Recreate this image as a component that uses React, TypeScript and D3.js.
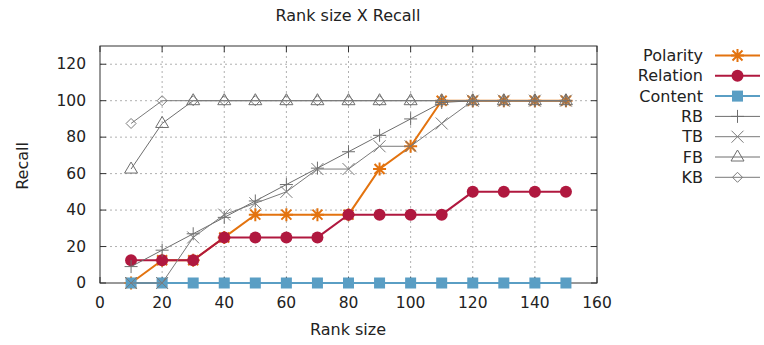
import React from "react";
import * as d3 from "d3";

const rankSizes = [10, 20, 30, 40, 50, 60, 70, 80, 90, 100, 110, 120, 130, 140, 150];
const polarity = [0, 12.5, 12.5, 25, 37.5, 37.5, 37.5, 37.5, 62.5, 75, 100, 100, 100, 100, 100];
const relation = [12.5, 12.5, 12.5, 25, 25, 25, 25, 37.5, 37.5, 37.5, 37.5, 50, 50, 50, 50];
const content = [0, 0, 0, 0, 0, 0, 0, 0, 0, 0, 0, 0, 0, 0, 0];
const rb = [9, 18, 27, 36, 45, 54, 63, 72, 81, 90, 99, 100, 100, 100, 100];
const tb = [0, 0, 25, 37.5, 43.75, 50, 62.5, 62.5, 75, 75, 87.5, 100, 100, 100, 100];
const fb = [62.5, 87.5, 100, 100, 100, 100, 100, 100, 100, 100, 100, 100, 100, 100, 100];
const kb = [87.5, 100, 100, 100, 100, 100, 100, 100, 100, 100, 100, 100, 100, 100, 100];

const xTicks = [0, 20, 40, 60, 80, 100, 120, 140, 160];
const yTicks = [0, 20, 40, 60, 80, 100, 120];

const title = "Rank size X Recall";
const xLabel = "Rank size";
const yLabel = "Recall";

type Marker = "star" | "circle" | "square" | "plus" | "cross" | "triangle" | "diamond";
interface Series { name: string; values: number[]; color: string; width: number; marker: Marker; }

const series: Series[] = [
  { name: "Polarity", values: polarity, color: "#e3730f", width: 2, marker: "star" },
  { name: "Relation", values: relation, color: "#b0183f", width: 2, marker: "circle" },
  { name: "Content", values: content, color: "#5a9ec4", width: 2, marker: "square" },
  { name: "RB", values: rb, color: "#6e6e6e", width: 1, marker: "plus" },
  { name: "TB", values: tb, color: "#7a7a7a", width: 1, marker: "cross" },
  { name: "FB", values: fb, color: "#6e6e6e", width: 1, marker: "triangle" },
  { name: "KB", values: kb, color: "#7a7a7a", width: 1, marker: "diamond" },
];

const FONT = "DejaVu Sans, sans-serif";

function MarkerShape({ m, x, y, color }: { m: Marker; x: number; y: number; color: string }) {
  switch (m) {
    case "star": {
      const s = 6.5, d = 5;
      return (
        <path
          d={`M${x - s},${y}H${x + s}M${x},${y - s}V${y + s}M${x - d},${y - d}L${x + d},${y + d}M${x - d},${y + d}L${x + d},${y - d}`}
          stroke={color} strokeWidth={2} fill="none" />
      );
    }
    case "circle":
      return <circle cx={x} cy={y} r={6} fill={color} />;
    case "square":
      return <rect x={x - 5.5} y={y - 5.5} width={11} height={11} fill={color} />;
    case "plus": {
      const s = 6.5;
      return <path d={`M${x - s},${y}H${x + s}M${x},${y - s}V${y + s}`} stroke={color} strokeWidth={1} fill="none" />;
    }
    case "cross": {
      const s = 6;
      return <path d={`M${x - s},${y - s}L${x + s},${y + s}M${x - s},${y + s}L${x + s},${y - s}`} stroke={color} strokeWidth={1} fill="none" />;
    }
    case "triangle":
      return <path d={`M${x},${y - 7}L${x + 6.5},${y + 4}L${x - 6.5},${y + 4}Z`} stroke={color} strokeWidth={1} fill="none" />;
    case "diamond":
      return <path d={`M${x},${y - 5}L${x + 5},${y}L${x},${y + 5}L${x - 5},${y}Z`} stroke={color} strokeWidth={1} fill="none" />;
  }
  return null;
}

export default function App() {
  const W = 764, H = 345;
  const left = 100, right = 597, top = 46, bottom = 283;
  const x = d3.scaleLinear().domain([0, 160]).range([left, right]);
  const y = d3.scaleLinear().domain([0, 130]).range([bottom, top]);
  const line = d3.line<number>().x((_, i) => x(rankSizes[i])).y((v) => y(v));
  const tickLen = 6;
  const legendTextX = 703;
  const legendLineX0 = 715, legendLineX1 = 760;
  const legendY0 = 55.5, legendStep = 20.3;

  return (
    <svg width={W} height={H} style={{ position: "absolute", left: 0, top: 0, background: "#fff" }}>
      <rect width={W} height={H} fill="#fff" />
      {/* grid */}
      {xTicks.filter((t) => t > 0 && t < 160).map((t) => (
        <line key={"gx" + t} x1={x(t)} x2={x(t)} y1={top} y2={bottom} stroke="#b0b0b0" strokeWidth={1} strokeDasharray="2,3" />
      ))}
      {yTicks.filter((t) => t > 0).map((t) => (
        <line key={"gy" + t} x1={left} x2={right} y1={y(t)} y2={y(t)} stroke="#b0b0b0" strokeWidth={1} strokeDasharray="2,3" />
      ))}
      {/* ticks */}
      {xTicks.map((t) => (
        <g key={"tx" + t}>
          <line x1={x(t)} x2={x(t)} y1={bottom} y2={bottom - tickLen} stroke="#333" />
          <line x1={x(t)} x2={x(t)} y1={top} y2={top + tickLen} stroke="#333" />
          <text x={x(t)} y={303} textAnchor="middle" dominantBaseline="central" fontFamily={FONT} fontSize={15.5} fill="#222">{t}</text>
        </g>
      ))}
      {yTicks.map((t) => (
        <g key={"ty" + t}>
          <line x1={left} x2={left + tickLen} y1={y(t)} y2={y(t)} stroke="#333" />
          <line x1={right} x2={right - tickLen} y1={y(t)} y2={y(t)} stroke="#333" />
          <text x={86} y={y(t)} textAnchor="end" dominantBaseline="central" fontFamily={FONT} fontSize={15.5} fill="#222">{t}</text>
        </g>
      ))}
      {/* frame */}
      <rect x={left} y={top} width={right - left} height={bottom - top} fill="none" stroke="#333" strokeWidth={1} />
      {/* series */}
      {series.map((s) => (
        <g key={s.name}>
          <path d={line(s.values) || ""} fill="none" stroke={s.color} strokeWidth={s.width} />
          {s.values.map((v, i) => (
            <MarkerShape key={i} m={s.marker} x={x(rankSizes[i])} y={y(v)} color={s.color} />
          ))}
        </g>
      ))}
      {/* legend */}
      {series.map((s, i) => {
        const ly = legendY0 + i * legendStep;
        return (
          <g key={"lg" + s.name}>
            <text x={legendTextX} y={ly} textAnchor="end" dominantBaseline="central" fontFamily={FONT} fontSize={16} fill="#222">{s.name}</text>
            <line x1={legendLineX0} x2={legendLineX1} y1={ly} y2={ly} stroke={s.color} strokeWidth={s.width} />
            <MarkerShape m={s.marker} x={(legendLineX0 + legendLineX1) / 2} y={ly} color={s.color} />
          </g>
        );
      })}
      {/* titles */}
      <text x={348} y={15} textAnchor="middle" dominantBaseline="central" fontFamily={FONT} fontSize={16} fill="#222">{title}</text>
      <text x={348} y={329} textAnchor="middle" dominantBaseline="central" fontFamily={FONT} fontSize={16} fill="#222">{xLabel}</text>
      <text transform={`translate(22,166) rotate(-90)`} textAnchor="middle" dominantBaseline="central" fontFamily={FONT} fontSize={16} fill="#222">{yLabel}</text>
    </svg>
  );
}
